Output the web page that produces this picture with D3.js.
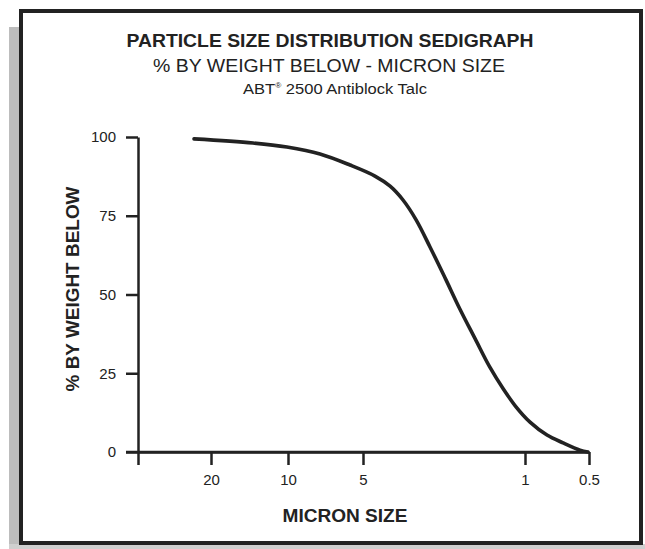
<!DOCTYPE html>
<html>
<head>
  <meta charset="utf-8">
  <title>Particle Size Distribution Sedigraph</title>
  <script src="https://d3js.org/d3.v7.min.js"></script>
  <style>
    body { margin: 0; background: #fff; }
    text { font-family: "Liberation Sans", Arial, sans-serif; fill: #222; }
  </style>
</head>
<body>
  <svg id="grafico" width="645" height="549"></svg>

  <script>
    const width = 645;
    const height = 549;

    // curve (micron size, % by weight below)
    const micronSize = [23.5, 13.7, 10.1, 7.44, 5.64, 4.44, 3.82, 3.36, 2.95, 2.57, 2.21,
      1.91, 1.64, 1.42, 1.24, 1.10, 0.947, 0.788, 0.662, 0.551, 0.506];
    const pctBelow = [99.4, 98.1, 96.8, 94.6, 91.1, 87.6, 84.4, 80.0, 73.7, 65.1, 55.2,
      45.4, 35.9, 27.0, 20.0, 14.6, 9.5, 5.4, 2.9, 0.6, 0];

    // axes
    const xTickValues = [40, 20, 10, 5, 1, 0.5];
    const xTickLabels = ["", "20", "10", "5", "1", "0.5"];
    const yTickValues = [0, 25, 50, 75, 100];

    const svg = d3.select("#grafico")
      .attr("width", width)
      .attr("height", height);

    // gray strip at the left of the card, then the framed card
    svg.append("rect")
      .attr("x", 9).attr("y", 27)
      .attr("width", 11).attr("height", 522)
      .attr("fill", "#bdbdbd");
    svg.append("rect")
      .attr("x", 9).attr("y", 544)
      .attr("width", 636).attr("height", 5)
      .attr("fill", "#cfcfcf");

    svg.append("rect")
      .attr("x", 21).attr("y", 11)
      .attr("width", 620).attr("height", 532)
      .attr("fill", "#fff")
      .attr("stroke", "#222")
      .attr("stroke-width", 4);

    // the printed axis is not a clean log scale, so each piece is pinned
    const x = d3.scaleLog()
      .domain(xTickValues)
      .range([138, 211, 288, 363, 525, 589]);

    const y = d3.scaleLinear()
      .domain([0, 100])
      .range([452, 137]);

    const xAxis = svg.append("g")
      .attr("transform", `translate(0,${y(0)})`)
      .call(d3.axisBottom(x)
        .tickValues(xTickValues)
        .tickFormat((d, i) => xTickLabels[i])
        .tickSize(13)
        .tickSizeOuter(0)
        .tickPadding(9));

    const yAxis = svg.append("g")
      .attr("transform", `translate(${x(40)},0)`)
      .call(d3.axisLeft(y)
        .tickValues(yTickValues)
        .tickSize(12)
        .tickSizeOuter(0)
        .tickPadding(10));

    [xAxis, yAxis].forEach(ax => {
      ax.select(".domain").attr("stroke", "#222").attr("stroke-width", 2.5);
      ax.selectAll(".tick line").attr("stroke", "#222").attr("stroke-width", 2.5);
      ax.selectAll(".tick text")
        .style("font-size", "15px")
        .style("font-family", "'Liberation Sans', Arial, sans-serif")
        .attr("fill", "#222");
    });

    // stretch the x axis line left to meet the 0 tick
    svg.append("line")
      .attr("x1", x(40) - 12).attr("x2", x(0.5))
      .attr("y1", y(0)).attr("y2", y(0))
      .attr("stroke", "#222").attr("stroke-width", 2.5);

    const linha = d3.line()
      .x((d, i) => x(micronSize[i]))
      .y(d => y(d))
      .curve(d3.curveCatmullRom.alpha(0.5));

    svg.append("path")
      .datum(pctBelow)
      .attr("d", linha)
      .attr("fill", "none")
      .attr("stroke", "#222")
      .attr("stroke-width", 3.6)
      .attr("stroke-linecap", "round");

    // titulos (the print is a bit wide, so lengths are held to the original)
    svg.append("text")
      .attr("x", 330).attr("y", 47)
      .attr("text-anchor", "middle")
      .attr("textLength", 407)
      .attr("lengthAdjust", "spacingAndGlyphs")
      .style("font-size", "17.5px")
      .style("font-weight", "bold")
      .text("PARTICLE SIZE DISTRIBUTION SEDIGRAPH");

    svg.append("text")
      .attr("x", 329).attr("y", 72)
      .attr("text-anchor", "middle")
      .attr("textLength", 352)
      .attr("lengthAdjust", "spacingAndGlyphs")
      .style("font-size", "18.5px")
      .text("% BY WEIGHT BELOW - MICRON SIZE");

    const sub = svg.append("text")
      .attr("x", 335).attr("y", 94)
      .attr("text-anchor", "middle")
      .attr("textLength", 184)
      .attr("lengthAdjust", "spacingAndGlyphs")
      .style("font-size", "14px");
    sub.append("tspan").text("ABT");
    sub.append("tspan").attr("dy", -6).style("font-size", "7px").text("®");
    sub.append("tspan").attr("dy", 6).text(" 2500 Antiblock Talc");

    svg.append("text")
      .attr("transform", `translate(79,289) rotate(-90)`)
      .attr("text-anchor", "middle")
      .attr("textLength", 205)
      .attr("lengthAdjust", "spacingAndGlyphs")
      .style("font-size", "18px")
      .style("font-weight", "bold")
      .text("% BY WEIGHT BELOW");

    svg.append("text")
      .attr("x", 345).attr("y", 522)
      .attr("text-anchor", "middle")
      .attr("textLength", 125)
      .attr("lengthAdjust", "spacingAndGlyphs")
      .style("font-size", "18px")
      .style("font-weight", "bold")
      .text("MICRON SIZE");
  </script>
</body>
</html>
